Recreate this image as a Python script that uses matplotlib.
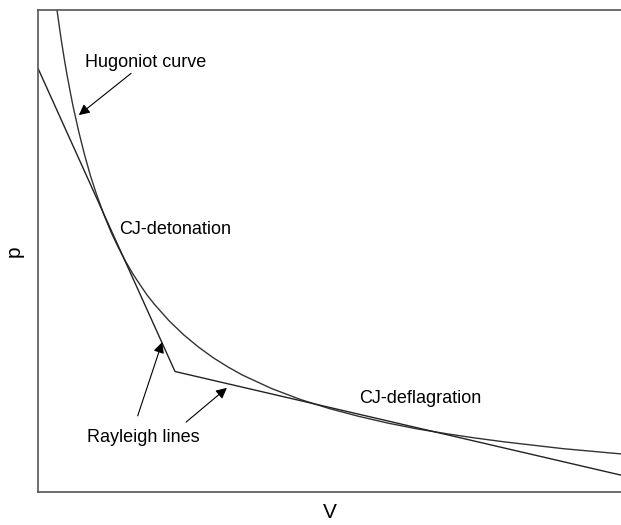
import matplotlib.pyplot as plt

plt.rcParams['font.family'] = ['Liberation Sans', 'DejaVu Sans']

# Hugoniot curve, points (V, p)
hug_V = [0.3, 0.35, 0.4, 0.45, 0.5, 0.55, 0.6, 0.7, 0.8, 0.9, 1.0, 1.125,
         1.25, 1.375, 1.5, 1.625, 1.75, 1.875, 2.0, 2.25, 2.5, 2.75, 3.0,
         3.25, 3.5, 4.0, 4.5, 5.0, 5.5, 6.0, 6.5, 7.0, 7.5, 8.0, 9.0, 10.0]
hug_p = [10.23, 9.79, 9.37, 8.99, 8.64, 8.32, 8.01, 7.47, 6.99, 6.56, 6.19,
         5.77, 5.40, 5.08, 4.79, 4.53, 4.30, 4.08, 3.89, 3.55, 3.26, 3.01,
         2.79, 2.60, 2.43, 2.15, 1.92, 1.73, 1.57, 1.43, 1.31, 1.21, 1.12,
         1.04, 0.90, 0.79]

# Rayleigh lines (start, kink, end)
ray_V = [0.0, 2.35, 10.0]
ray_p = [8.79, 2.50, 0.35]

fig = plt.figure(figsize=(6.21, 5.25), dpi=100)
ax = fig.add_axes([38 / 621, 33 / 525, 1 - 38 / 621, 482 / 525])

ax.plot(hug_V, hug_p, color='#333333', lw=1.0)
ax.plot(ray_V, ray_p, color='#222222', lw=1.0)

ax.set_xlim(0, 10)
ax.set_ylim(0, 10)
ax.set_xticks([])
ax.set_yticks([])
for s in ['left', 'bottom', 'top']:
    ax.spines[s].set_color('#555555')
    ax.spines[s].set_linewidth(1.2)
ax.spines['right'].set_visible(False)

ax.set_xlabel('V', fontsize=15, labelpad=8)
ax.set_ylabel('p', fontsize=15, labelpad=10)

arrow = dict(arrowstyle='-|>', color='black', lw=0.8, mutation_scale=16,
             shrinkA=0, shrinkB=0)
ax.annotate('Hugoniot curve', xy=(0.70, 7.82), xytext=(1.84, 8.92),
            fontsize=13, ha='center', va='center', arrowprops=arrow)
ax.text(2.35, 5.44, 'CJ-detonation', fontsize=13, ha='center', va='center')
ax.text(6.55, 1.95, 'CJ-deflagration', fontsize=13, ha='center', va='center')
ax.text(1.80, 1.14, 'Rayleigh lines', fontsize=13, ha='center', va='center')
ax.annotate('', xy=(2.13, 3.11), xytext=(1.71, 1.58), arrowprops=arrow)
ax.annotate('', xy=(3.24, 2.16), xytext=(2.54, 1.45), arrowprops=arrow)

fig.savefig('out.png', dpi=100)
